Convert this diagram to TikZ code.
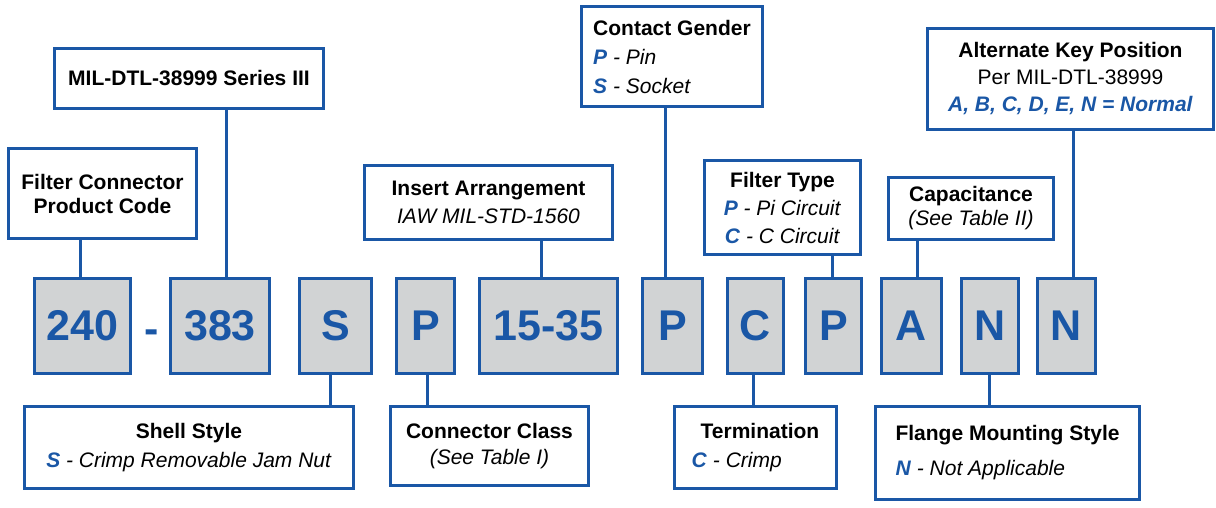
\documentclass[tikz,border=0pt]{standalone}
\usepackage{fontspec}
\setmainfont{Liberation Sans}
\definecolor{cblue}{HTML}{1A57A6}
\definecolor{cgray}{HTML}{D1D3D4}
\newcommand\hlb[1]{\textcolor{cblue}{\textbf{\textit{#1}}}}
\tikzset{
  lbl/.style={draw=cblue, line width=3pt, fill=white, inner sep=0pt, align=center, text=black},
  codebox/.style={draw=cblue, line width=3pt, fill=cgray, inner sep=0pt, text=cblue,
    font=\bfseries\fontsize{43}{43}\selectfont, minimum height=95pt},
  conn/.style={draw=cblue, line width=3pt},
}
\begin{document}
\begin{tikzpicture}[x=1pt,y=-1pt]
\useasboundingbox (0,0) rectangle (1216,508);
% code row
\node[codebox, minimum width=96pt]  (c240)  at (82.5,326)  {240};
\node[text=cblue, font=\bfseries\fontsize{43}{43}\selectfont, inner sep=0pt, anchor=base] (dash) at (151.5,343) {-};
\node[codebox, minimum width=99pt]  (c383)  at (220,326)   {383};
\node[codebox, minimum width=72pt]  (cS)    at (335.5,326) {S};
\node[codebox, minimum width=58pt]  (cP1)   at (425.5,326) {P};
\node[codebox, minimum width=138pt] (c1535) at (548.5,326) {15-35};
\node[codebox, minimum width=60pt]  (cP2)   at (672.5,326) {P};
\node[codebox, minimum width=56pt]  (cC)    at (755.5,326) {C};
\node[codebox, minimum width=56pt]  (cP3)   at (833.5,326) {P};
\node[codebox, minimum width=60pt]  (cA)    at (911.5,326) {A};
\node[codebox, minimum width=57pt]  (cN1)   at (990,326)   {N};
\node[codebox, minimum width=58pt]  (cN2)   at (1066.5,326) {N};
% upper labels
\node[lbl, minimum width=269pt, minimum height=60pt, font=\bfseries\fontsize{21}{28}\selectfont] (mil) at (189,78.5) {MIL-DTL-38999 Series III};
\node[lbl, minimum width=188pt, minimum height=90pt, font=\bfseries\fontsize{21}{24}\selectfont] (fcpc) at (102.5,193.5) {Filter Connector\\Product Code};
\node[lbl, minimum width=248pt, minimum height=74pt, font=\fontsize{21}{28}\selectfont] (insert) at (488.5,202.5) {\textbf{Insert Arrangement}\\\textit{IAW MIL-STD-1560}};
\node[lbl, minimum width=181pt, minimum height=100pt, align=left, font=\fontsize{21}{29}\selectfont] (gender) at (672,56.5) {\textbf{Contact Gender}\\\hlb{P} \textit{- Pin}\\\hlb{S} \textit{- Socket}};
\node[lbl, minimum width=156pt, minimum height=94pt, font=\fontsize{21}{28}\selectfont] (ftype) at (782.5,207.5) {\textbf{Filter Type}\\\hlb{P} \textit{- Pi Circuit}\\\hlb{C} \textit{- C Circuit}};
\node[lbl, minimum width=165pt, minimum height=62pt, font=\fontsize{21}{24}\selectfont] (cap) at (971,208.5) {\textbf{Capacitance}\\\textit{(See Table II)}};
\node[lbl, minimum width=286pt, minimum height=101pt, font=\fontsize{21}{27}\selectfont] (akp) at (1070.5,79) {\textbf{Alternate Key Position}\\Per MIL-DTL-38999\\\hlb{A, B, C, D, E, N = Normal}};
% lower labels
\node[lbl, minimum width=329pt, minimum height=82pt, font=\fontsize{21}{29}\selectfont] (shell) at (189,447.5) {\textbf{Shell Style}\\\hlb{S} \textit{- Crimp Removable Jam Nut}};
\node[lbl, minimum width=198pt, minimum height=79pt, font=\fontsize{21}{26}\selectfont] (cclass) at (489.5,446) {\textbf{Connector Class}\\\textit{(See Table I)}};
\node[lbl, minimum width=162pt, minimum height=82pt, align=left, font=\fontsize{21}{29}\selectfont] (term) at (755.5,447.5) {\hspace*{9pt}\textbf{Termination}\\\hlb{C} \textit{- Crimp}};
\node[lbl, minimum width=264pt, minimum height=93pt, align=left, font=\fontsize{21}{35}\selectfont] (flange) at (1007.5,453) {\textbf{Flange Mounting Style}\\\hlb{N} \textit{- Not Applicable}};
% connectors
\draw[conn] ([xshift=-2.5pt]c240.north) -- ([xshift=-2.5pt]c240.north |- fcpc.south);
\draw[conn] ([xshift=6pt]c383.north) -- ([xshift=6pt]c383.north |- mil.south);
\draw[conn] ([xshift=-5.5pt]cS.south) -- ([xshift=-5.5pt]cS.south |- shell.north);
\draw[conn] ([xshift=1.5pt]cP1.south) -- ([xshift=1.5pt]cP1.south |- cclass.north);
\draw[conn] ([xshift=-7.5pt]c1535.north) -- ([xshift=-7.5pt]c1535.north |- insert.south);
\draw[conn] ([xshift=-7.5pt]cP2.north) -- ([xshift=-7.5pt]cP2.north |- gender.south);
\draw[conn] ([xshift=-2.5pt]cC.south) -- ([xshift=-2.5pt]cC.south |- term.north);
\draw[conn] ([xshift=-1.5pt]cP3.north) -- ([xshift=-1.5pt]cP3.north |- ftype.south);
\draw[conn] ([xshift=5.5pt]cA.north) -- ([xshift=5.5pt]cA.north |- cap.south);
\draw[conn] ([xshift=-1pt]cN1.south) -- ([xshift=-1pt]cN1.south |- flange.north);
\draw[conn] ([xshift=6.5pt]cN2.north) -- ([xshift=6.5pt]cN2.north |- akp.south);
\end{tikzpicture}
\end{document}
